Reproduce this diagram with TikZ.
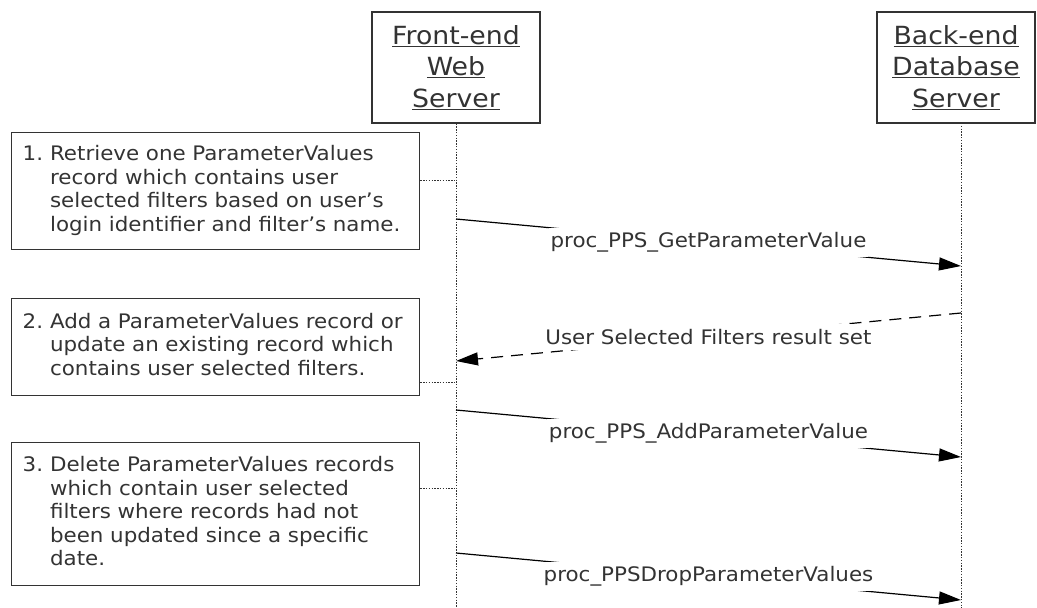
\documentclass[tikz,border=0pt]{standalone}
\usepackage{fontspec}
\setmainfont{DejaVu Sans}[FakeStretch=1.07]
\usetikzlibrary{arrows.meta}
\definecolor{ink}{HTML}{333333}
\tikzset{
  hdr/.style={draw=ink, line width=1.3pt, minimum height=111pt, inner sep=0pt,
    align=center, font=\fontsize{25}{31.5}\selectfont, text=ink},
  note/.style={draw=ink, line width=1.3pt, inner xsep=11pt, inner ysep=0pt,
    text width=386pt, align=left, anchor=north west,
    font=\fontsize{20}{23.5}\selectfont, text=ink},
  life/.style={draw=ink, line width=1pt, dash pattern=on 1.4pt off 1.4pt},
  msg/.style={draw=black, line width=1.2pt, -{Triangle[length=22pt,width=13pt]}},
  ret/.style={msg, dash pattern=on 12pt off 8pt},
  lbl/.style={fill=white, inner xsep=2pt, inner ysep=5pt,
    font=\fontsize{20}{24}\selectfont, text=ink}
}
\begin{document}
\begin{tikzpicture}[x=1pt,y=-1pt]
\useasboundingbox (0,0) rectangle (1037,608);
% participants
\node[hdr, minimum width=168pt] (fe) at (456,67.5)
  {\underline{Front-end}\\\underline{Web}\\\underline{Server}};
\node[hdr, minimum width=158pt] (be) at (956,67.5)
  {\underline{Back-end}\\\underline{Database}\\\underline{Server}};
\coordinate (fbot) at (456,608);
\coordinate (btop) at (961,123);
\coordinate (bbot) at (961,608);
\draw[life] (fe.south) -- (fbot);
\draw[life] (btop) -- (bbot);
% notes
\node[note, minimum height=117pt] (n1) at (11,132)
  {\begin{tabular}{@{}l@{\hspace{7pt}}l@{}}1. & Retrieve one ParameterValues\\
   & record which contains user\\ & selected filters based on user’s\\
   & login identifier and filter’s name.\end{tabular}};
\node[note, minimum height=97pt] (n2) at (11,298)
  {\begin{tabular}{@{}l@{\hspace{7pt}}l@{}}2. & Add a ParameterValues record or\\
   & update an existing record which\\ & contains user selected filters.\end{tabular}};
\node[note, minimum height=143pt] (n3) at (11,442)
  {\begin{tabular}{@{}l@{\hspace{7pt}}l@{}}3. & Delete ParameterValues records\\
   & which contain user selected\\ & filters where records had not\\
   & been updated since a specific\\ & date.\end{tabular}};
% note connectors
\coordinate (c1) at (456,180);
\coordinate (c2) at (456,382);
\coordinate (c3) at (456,488);
\draw[life] (c1 -| n1.east) -- (c1);
\draw[life] (c2 -| n2.east) -- (c2);
\draw[life] (c3 -| n3.east) -- (c3);
% messages
\coordinate (m1s) at (456,219); \coordinate (m1e) at (961,266);
\coordinate (r1s) at (961,313); \coordinate (r1e) at (456,361);
\coordinate (m2s) at (456,410); \coordinate (m2e) at (961,457);
\coordinate (m3s) at (456,553); \coordinate (m3e) at (961,600);
\draw[msg] (m1s) -- node[lbl] (l1) {proc\_PPS\_GetParameterValue} (m1e);
\draw[ret] (r1s) -- node[lbl] (l2) {User Selected Filters result set} (r1e);
\draw[msg] (m2s) -- node[lbl] (l3) {proc\_PPS\_AddParameterValue} (m2e);
\draw[msg] (m3s) -- node[lbl] (l4) {proc\_PPSDropParameterValues} (m3e);
\end{tikzpicture}
\end{document}
